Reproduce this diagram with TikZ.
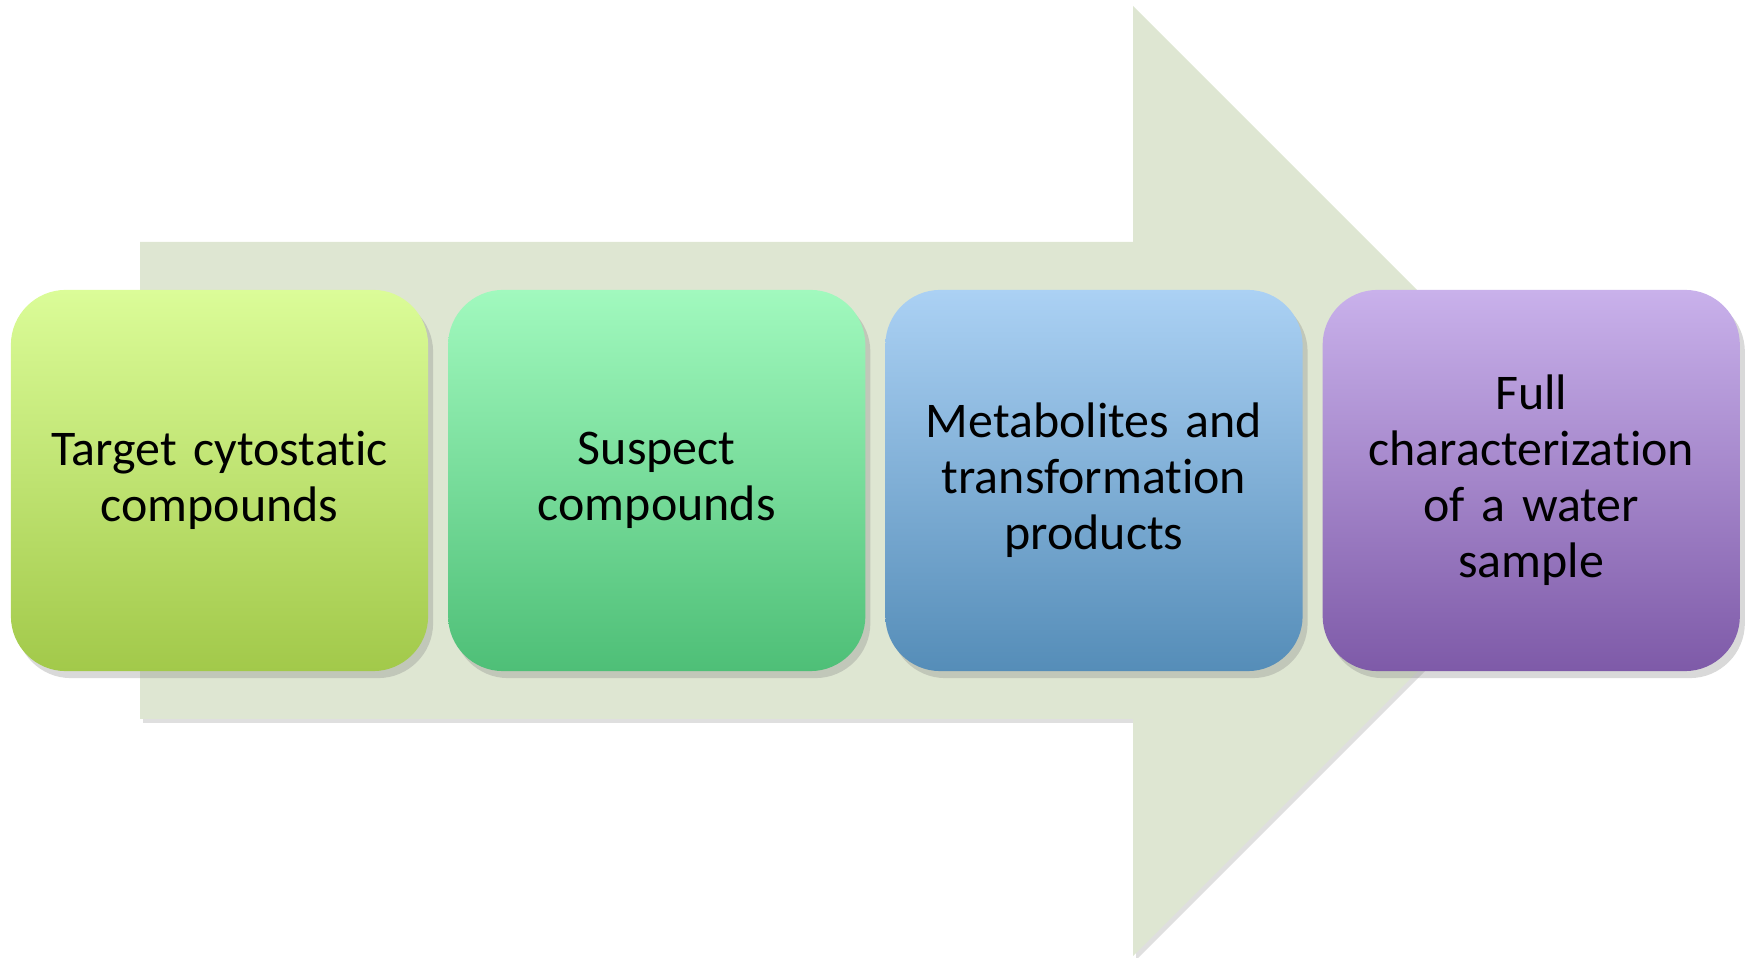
\documentclass[tikz,border=0pt]{standalone}
\usepackage{fontspec}
\setmainfont[Ligatures=NoCommon]{Carlito}
\usetikzlibrary{positioning,shadows}

\definecolor{flowfill}{HTML}{DEE6D2}
\definecolor{limetop}{HTML}{DBFC98}
\definecolor{limebot}{HTML}{A2C94A}
\definecolor{mintop}{HTML}{A1F9BE}
\definecolor{minbot}{HTML}{4EBF77}
\definecolor{skytop}{HTML}{ABD1F4}
\definecolor{skybot}{HTML}{558DB8}
\definecolor{lilactop}{HTML}{C9B1EB}
\definecolor{lilacbot}{HTML}{7E5AA8}

\tikzstyle{stage} = [rectangle, rounded corners=0.55cm, minimum width=4.17cm, minimum height=3.81cm, inner sep=0pt, outer sep=0pt, align=center, text width=3.9cm, font=\fontsize{14.2}{15.9}\selectfont, drop shadow={shadow xshift=0.5mm, shadow yshift=-0.7mm, opacity=0.3}]
\tikzstyle{flow} = [fill=flowfill, drop shadow={shadow xshift=0.3mm, shadow yshift=-0.4mm, opacity=0.25}]

\begin{document}
\begin{tikzpicture}[x=0.01cm, y=-0.01cm, node distance=0.2cm]
\useasboundingbox (0,0) rectangle (1747,958);

% big arrow behind the stages
\path[flow] (140,242) -- (1133,242) -- (1133,6) -- (1608,481) -- (1133,956) -- (1133,719) -- (140,719) -- cycle;

\node (target) [stage, top color=limetop, bottom color=limebot] at (219.5,480.5) {Target cytostatic\\compounds};
\node (suspect) [stage, top color=mintop, bottom color=minbot, right=of target] {Suspect\\compounds};
\node (metab) [stage, top color=skytop, bottom color=skybot, right=of suspect] {Metabolites and\\transformation\\products};
\node (full) [stage, top color=lilactop, bottom color=lilacbot, right=of metab] {Full\\characterization\\of a water\\sample};
\end{tikzpicture}
\end{document}
